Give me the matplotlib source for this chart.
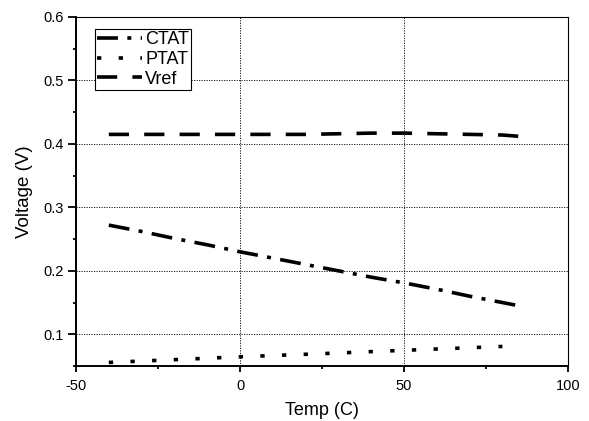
import matplotlib
matplotlib.use("Agg")
import matplotlib.pyplot as plt
from matplotlib.ticker import MultipleLocator

plt.rcParams['font.family'] = ['Liberation Sans', 'DejaVu Sans']
plt.rcParams['axes.unicode_minus'] = False

temp_ctat = [-40, -30, -20, -10, 0, 10, 20, 30, 40, 50, 60, 70, 80, 85]
ctat = [0.272, 0.262, 0.251, 0.241, 0.230, 0.220, 0.210, 0.200, 0.190, 0.181, 0.171, 0.160, 0.150, 0.145]

temp_ptat = [-40, -30, -20, -10, 0, 10, 20, 30, 40, 50, 60, 70, 80]
ptat = [0.0556, 0.0578, 0.0600, 0.0622, 0.0645, 0.0665, 0.0685, 0.0705, 0.0727, 0.0747, 0.0768, 0.0788, 0.0808]

temp_vref = [-40, -30, -20, -10, 0, 10, 20, 30, 40, 50, 60, 70, 80, 85]
vref = [0.415, 0.415, 0.415, 0.415, 0.415, 0.415, 0.415, 0.416, 0.417, 0.417, 0.416, 0.415, 0.414, 0.412]

fig = plt.figure(figsize=(5.89, 4.21), dpi=100)
ax = fig.add_axes([76/589, 1-366/421, (568-76)/589, (366-17)/421])

lw = 2.6
ax.plot(temp_ctat, ctat, color='black', lw=lw, dashes=(5.8, 2.6, 1.1, 2.6), label='CTAT')
ax.plot(temp_ptat, ptat, color='black', lw=lw, dashes=(1.2, 4.8), label='PTAT')
ax.plot(temp_vref, vref, color='black', lw=lw, dashes=(5.6, 4.2), label='Vref')

ax.set_xlim(-50, 100)
ax.set_ylim(0.05, 0.6)
ax.xaxis.set_major_locator(MultipleLocator(50))
ax.xaxis.set_minor_locator(MultipleLocator(25))
ax.yaxis.set_minor_locator(MultipleLocator(0.05))
ax.set_yticks([0.1, 0.2, 0.3, 0.4, 0.5, 0.6])
ax.grid(True, which='major', color='black', linestyle=(0, (1.5, 1.5)), lw=0.6)
ax.tick_params(which='both', direction='out', width=1.3, labelsize=10.5)
ax.tick_params(axis='y', which='major', length=5.5, pad=3)
ax.tick_params(axis='x', which='major', length=4.5, pad=5)
ax.tick_params(which='minor', length=2.5)
for s in ax.spines.values():
    s.set_linewidth(1.4)
ax.spines['top'].set_linewidth(0.8)
ax.spines['right'].set_linewidth(0.8)

ax.set_xlabel('Temp (C)', fontsize=13, labelpad=6)
ax.set_ylabel('Voltage (V)', fontsize=13.5, labelpad=8)

leg = ax.legend(loc='upper left', bbox_to_anchor=(19/492, 1-12/349), fontsize=13,
                frameon=True, fancybox=False, framealpha=1, edgecolor='black',
                handlelength=2.5, handletextpad=0.15, borderpad=0.12, labelspacing=0.15,
                borderaxespad=0)
leg.get_frame().set_linewidth(0.8)

fig.savefig('out.png', dpi=100)
